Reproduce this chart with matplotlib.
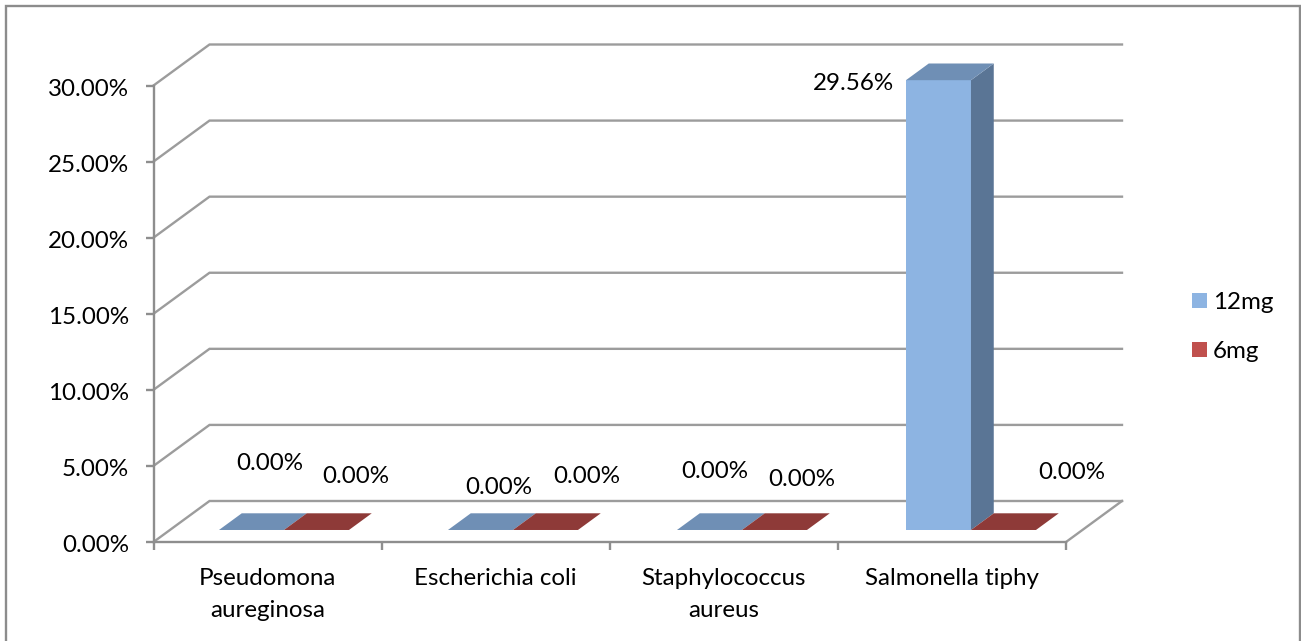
import matplotlib
matplotlib.use("Agg")
import matplotlib.pyplot as plt
from matplotlib.patches import Polygon, Rectangle, Patch
from matplotlib.lines import Line2D
from matplotlib.transforms import ScaledTranslation

categories = ["Pseudomona\naureginosa", "Escherichia coli", "Staphylococcus\naureus", "Salmonella tiphy"]
series_names = ["12mg", "6mg"]
values_12mg = [0.0, 0.0, 0.0, 29.56]
values_6mg = [0.0, 0.0, 0.0, 0.0]
y_ticks = [0, 5, 10, 15, 20, 25, 30]

W, H = 1301, 641
plt.rcParams["font.family"] = ["Lato", "DejaVu Sans"]
FS = 17.4
fig = plt.figure(figsize=(W / 100, H / 100), dpi=100)

# front plane of the oblique 3D box, in pixels
L, R, Y0, Y30 = 153.5, 1066, 542, 85.5
ax = fig.add_axes([L / W, 1 - Y0 / H, (R - L) / W, (Y0 - Y30) / H])
ax.set_xlim(0, 4)
ax.set_ylim(0, 30)
ax.patch.set_alpha(0)

px_x = (R - L) / 4
px_y = (Y0 - Y30) / 30
DX, DY = 56 / px_x, 41 / px_y   # full depth of the box in data units


def proj(x, v, d):
    return (x + d * DX, v + d * DY)


GRID = "#9c9c9c"
AXC = "#8e8e8e"
LW = 1.7
for v in y_ticks:
    ax.add_line(Line2D(*zip(proj(0, v, 0), proj(0, v, 1), proj(4, v, 1)), color=GRID, lw=LW, clip_on=False, zorder=1,
                       solid_joinstyle="miter"))
ax.add_line(Line2D(*zip(proj(4, 0, 0), proj(4, 0, 1)), color=GRID, lw=LW, clip_on=False, zorder=1))

# bars
BW = 65.0 / px_x
PITCH = 229.0 / px_x   # bar clusters are spaced a little wider than the ticks
D0, D1 = 0.293, 0.70
styles = [("#8db4e2", "#6f8fb5", "#5a7595"), ("#c0504d", "#8e3a38", "#8e3a38")]


def slot(i):
    return 0.5 + i * PITCH


for s, vals in enumerate([values_12mg, values_6mg]):
    front, top, side = styles[s]
    for i, v in enumerate(vals):
        x0 = slot(i) + (s - 1) * BW
        x1 = x0 + BW
        kw = dict(clip_on=False, zorder=3, lw=0)
        if v > 0:
            ax.add_patch(Polygon([proj(x0, 0, D0), proj(x1, 0, D0), proj(x1, v, D0), proj(x0, v, D0)], fc=front, **kw))
            ax.add_patch(Polygon([proj(x1, 0, D0), proj(x1, 0, D1), proj(x1, v, D1), proj(x1, v, D0)], fc=side, **kw))
        ax.add_patch(Polygon([proj(x0, v, D0), proj(x1, v, D0), proj(x1, v, D1), proj(x0, v, D1)], fc=top, **kw))

# data labels: moved by hand in the original, offsets in pixels from the bar's front face
label_offsets = [
    [(18.5, 66), (18, 42), (5.5, 58), (-85, -3)],
    [(39.5, 53), (41, 53), (27, 50), (68, 57)],
]
for s, vals in enumerate([values_12mg, values_6mg]):
    for i, v in enumerate(vals):
        x0 = slot(i) + (s - 0.5) * BW
        ax.annotate(f"{v:.2f}%", xy=proj(x0, v, D0), xytext=label_offsets[s][i], textcoords="offset pixels",
                    ha="center", va="center", fontsize=FS, color="black", annotation_clip=False, zorder=4)

# axes
for k in ("top", "right"):
    ax.spines[k].set_visible(False)
for k in ("left", "bottom"):
    ax.spines[k].set_color(AXC)
    ax.spines[k].set_linewidth(LW)
    ax.spines[k].set_zorder(2)
ax.set_yticks(y_ticks)
ax.set_yticklabels([f"{v:.2f}%" for v in y_ticks], fontsize=FS)
ax.tick_params(axis="y", length=5.8, width=LW, color=AXC, pad=12)
shift = ScaledTranslation(0, -1.5 / 100, fig.dpi_scale_trans)
for lab in ax.get_yticklabels():
    lab.set_transform(lab.get_transform() + shift)
ax.set_xticks(range(5))
ax.set_xticklabels([])
ax.tick_params(axis="x", which="major", length=5.8, width=LW, color=AXC)
ax.set_xticks([i + 0.5 for i in range(4)], minor=True)
ax.set_xticklabels(categories, minor=True, fontsize=FS, linespacing=1.6)
ax.tick_params(axis="x", which="minor", length=0, pad=19)

# legend
handles = [Patch(fc=styles[0][0], lw=0), Patch(fc=styles[1][0], lw=0)]
fig.legend(handles, series_names, loc="center left", bbox_to_anchor=(1192 / W, 1 - 327 / H), frameon=False,
           fontsize=FS, handlelength=0.62, handleheight=0.62, handletextpad=0.25, labelspacing=1.17, borderpad=0,
           borderaxespad=0)

# outer frame
fig.add_artist(Rectangle((6 / W, 1 - 660 / H), (1300 - 6) / W, (660 - 6) / H, transform=fig.transFigure,
                         fc="none", ec="#8c8c8c", lw=1.7))

fig.savefig("out.png", dpi=100, facecolor="white")
